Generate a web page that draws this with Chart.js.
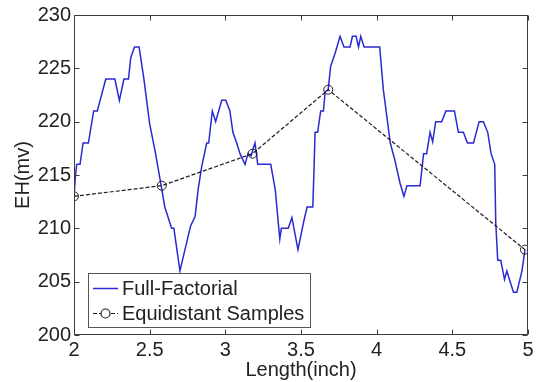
<!DOCTYPE html>
<html>
<head>
<meta charset="utf-8">
<script src="https://cdn.jsdelivr.net/npm/chart.js@4.4.1/dist/chart.umd.min.js"></script>
<style>
    html, body { margin: 0; padding: 0; background: #fff; }
</style>
</head>
<body>
<canvas id="graficoCanvas" width="538" height="382"></canvas>
<script>
// Full-factorial sweep of EH over length
const fullLength = [
    2.00, 2.01, 2.018, 2.04, 2.06, 2.095, 2.13, 2.154, 2.21, 2.27,
    2.30, 2.33, 2.36, 2.375, 2.40, 2.43, 2.46, 2.50, 2.535, 2.57,
    2.60, 2.645, 2.66, 2.70, 2.77, 2.80, 2.82, 2.844, 2.877, 2.89,
    2.914, 2.936, 2.976, 3.003, 3.03, 3.05, 3.075, 3.097, 3.13, 3.15,
    3.17, 3.196, 3.214, 3.30, 3.33, 3.36, 3.37, 3.416, 3.44, 3.48,
    3.516, 3.54, 3.578, 3.586, 3.593, 3.61, 3.63, 3.648, 3.66, 3.68,
    3.696, 3.725, 3.758, 3.784, 3.824, 3.84, 3.864, 3.88, 3.895, 3.917,
    4.02, 4.044, 4.07, 4.09, 4.12, 4.155, 4.18, 4.20, 4.287, 4.31,
    4.33, 4.353, 4.37, 4.39, 4.43, 4.457, 4.514, 4.54, 4.573, 4.60,
    4.64, 4.677, 4.705, 4.734, 4.756, 4.78, 4.787, 4.80, 4.82, 4.845,
    4.86, 4.904, 4.926, 4.96, 4.98
];
const fullEH = [
    213, 215, 216, 216, 218, 218, 221, 221, 224, 224,
    222, 224, 224, 226, 227, 227, 224.2, 219.8, 217.3, 214.5,
    212, 210, 210, 206, 210.2, 211.1, 213.6, 215.8, 218, 218,
    221, 220, 222, 222, 221, 219, 218, 217, 216, 217,
    216.8, 218, 216, 216, 213.6, 209, 210, 210, 211, 208,
    210.5, 212, 212, 215.5, 219, 219, 221, 221, 222.8, 223,
    225.2, 226.4, 228, 227, 227, 228, 228, 227, 228, 227,
    227, 223, 220.2, 218, 216.4, 214.2, 213, 214, 214, 217,
    217, 219, 218.1, 220, 220, 221, 221, 219, 219, 218,
    218, 220, 220, 219, 217, 216, 210.5, 207, 207, 205.2,
    206, 204, 204, 206, 208
];

// Equidistant samples
const sampleLength = [2.00, 2.58, 3.18, 3.68, 4.98];
const sampleEH = [213, 214, 217, 223, 208];

// Axis ticks
const xTicks = [2, 2.5, 3, 3.5, 4, 4.5, 5];
const yTicks = [200, 205, 210, 215, 220, 225, 230];

const fonte = 'Liberation Sans, Arial, sans-serif';
const corTexto = '#222';

function pontos(xs, ys) {
    return xs.map((x, i) => ({ x: x, y: ys[i] }));
}

// Box frame with inward ticks on all four sides, plus the legend box
const moldura = {
    id: 'moldura',
    afterDatasetsDraw(chart) {
        const { ctx, chartArea: a, scales } = chart;
        const L = Math.round(a.left) + 0.5, R = Math.round(a.right) - 0.5;
        const T = Math.round(a.top) + 0.5, B = Math.round(a.bottom) - 0.5;
        ctx.save();
        ctx.strokeStyle = '#3c3c3c';
        ctx.lineWidth = 1;
        ctx.strokeRect(L, T, R - L, B - T);
        ctx.beginPath();
        xTicks.forEach(v => {
            const px = Math.round(scales.x.getPixelForValue(v)) + 0.5;
            ctx.moveTo(px, B); ctx.lineTo(px, B - 5);
            ctx.moveTo(px, T); ctx.lineTo(px, T + 5);
        });
        yTicks.forEach(v => {
            const py = Math.round(scales.y.getPixelForValue(v)) + 0.5;
            ctx.moveTo(L, py); ctx.lineTo(L + 5, py);
            ctx.moveTo(R, py); ctx.lineTo(R - 5, py);
        });
        ctx.stroke();

        // legend
        const ds = chart.data.datasets;
        ctx.fillStyle = '#fff';
        ctx.fillRect(88.5, 273.5, 222, 54);
        ctx.strokeStyle = '#555';
        ctx.strokeRect(88.5, 273.5, 222, 54);

        ctx.strokeStyle = ds[0].borderColor;
        ctx.lineWidth = ds[0].borderWidth;
        ctx.beginPath();
        ctx.moveTo(93, 288.5); ctx.lineTo(118, 288.5);
        ctx.stroke();

        ctx.strokeStyle = ds[1].borderColor;
        ctx.lineWidth = ds[1].borderWidth;
        ctx.setLineDash(ds[1].borderDash);
        ctx.beginPath();
        ctx.moveTo(93, 313.5); ctx.lineTo(118, 313.5);
        ctx.stroke();
        ctx.setLineDash([]);
        ctx.fillStyle = '#fff';
        ctx.beginPath();
        ctx.arc(105.5, 313.5, 4.5, 0, Math.PI * 2);
        ctx.fill();
        ctx.stroke();

        ctx.fillStyle = corTexto;
        ctx.font = '20px ' + fonte;
        ctx.textBaseline = 'middle';
        ctx.textAlign = 'left';
        ctx.fillText(ds[0].label, 122, 289);
        ctx.fillText(ds[1].label, 122, 314);
        ctx.restore();
    }
};

const ctx = document.getElementById('graficoCanvas').getContext('2d');

new Chart(ctx, {
    type: 'line',
    data: {
        datasets: [{
            label: 'Full-Factorial',
            data: pontos(fullLength, fullEH),
            borderColor: '#2a2ad2',
            borderWidth: 1.5,
            pointRadius: 0,
            tension: 0,
            order: 1
        }, {
            label: 'Equidistant Samples',
            data: pontos(sampleLength, sampleEH),
            borderColor: '#1e1e1e',
            borderWidth: 1.2,
            borderDash: [4, 2],
            pointRadius: 4.5,
            pointBackgroundColor: 'rgba(0,0,0,0)',
            pointBorderColor: '#1e1e1e',
            pointBorderWidth: 1,
            tension: 0,
            order: 0
        }]
    },
    options: {
        responsive: false,
        animation: false,
        devicePixelRatio: 1,
        layout: { padding: { top: 15, right: 10, left: 0, bottom: 0 } },
        plugins: {
            legend: { display: false },
            tooltip: { enabled: false }
        },
        scales: {
            x: {
                type: 'linear',
                min: 2,
                max: 5,
                afterFit: s => { s.height = 47; },
                afterBuildTicks: s => { s.ticks = xTicks.map(v => ({ value: v })); },
                grid: { display: false, drawTicks: false },
                border: { display: false },
                ticks: {
                    padding: 3,
                    color: corTexto,
                    font: { family: fonte, size: 20 },
                    callback: v => String(v)
                },
                title: {
                    display: true,
                    text: 'Length(inch)',
                    color: corTexto,
                    padding: { top: 0, bottom: 0 },
                    font: { family: fonte, size: 20 }
                }
            },
            y: {
                min: 200,
                max: 230,
                afterFit: s => { s.width = 74; },
                afterBuildTicks: s => { s.ticks = yTicks.map(v => ({ value: v })); },
                grid: { display: false, drawTicks: false },
                border: { display: false },
                ticks: {
                    padding: 3,
                    color: corTexto,
                    font: { family: fonte, size: 20 },
                    callback: v => String(v)
                },
                title: {
                    display: true,
                    text: 'EH(mv)',
                    color: corTexto,
                    padding: { top: 11, bottom: 0 },
                    font: { family: fonte, size: 20 }
                }
            }
        }
    },
    plugins: [moldura]
});
</script>
</body>
</html>
